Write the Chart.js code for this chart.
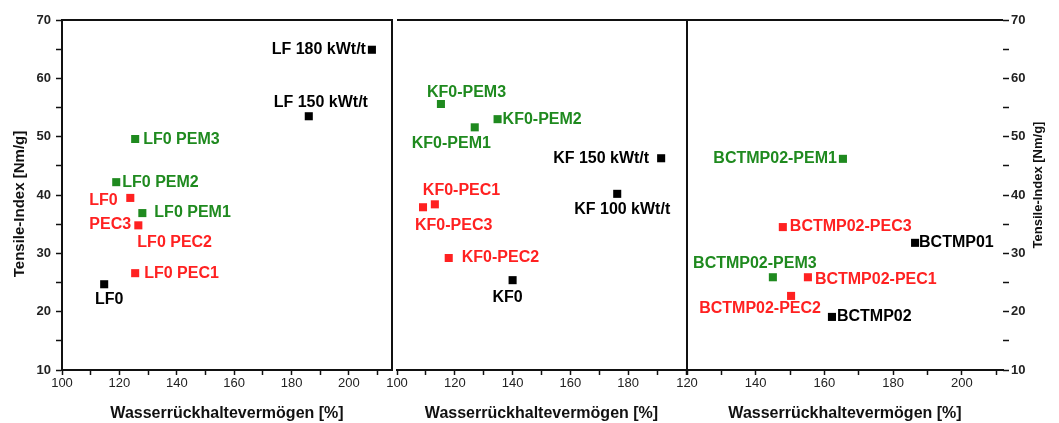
<!DOCTYPE html>
<html>
<head>
<meta charset="utf-8">
<script src="https://cdn.jsdelivr.net/npm/chart.js@4/dist/chart.umd.min.js"></script>
<style>
  html, body { margin: 0; padding: 0; background: #fff; }
  #wrap { position: relative; width: 1059px; height: 423px; overflow: hidden; }
  #wrap canvas { position: absolute; left: 0; top: 0; }
</style>
</head>
<body>
<div id="wrap">
  <canvas id="lf" width="1059" height="423"></canvas>
  <canvas id="kf" width="1059" height="423"></canvas>
  <canvas id="bc" width="1059" height="423"></canvas>
</div>
<script>
// Tensile index versus water retention value (WRV) for three pulp series.

// --- LF series ---
const lfNames   = ['LF0', 'LF 150 kWt/t', 'LF 180 kWt/t', 'LF0 PEC1', 'LF0 PEC2', 'LF0 PEC3', 'LF0 PEM1', 'LF0 PEM2', 'LF0 PEM3'];
const lfWrv     = [114.7, 186.0, 208.0, 125.5, 126.6, 123.8, 128.0, 118.9, 125.5];
const lfTensile = [24.7, 53.5, 64.9, 26.6, 34.8, 39.5, 36.9, 42.2, 49.6];

// --- KF series ---
const kfNames   = ['KF0', 'KF 100 kWt/t', 'KF 150 kWt/t', 'KF0-PEC1', 'KF0-PEC2', 'KF0-PEC3', 'KF0-PEM1', 'KF0-PEM2', 'KF0-PEM3'];
const kfWrv     = [140.0, 176.2, 191.4, 113.1, 117.9, 109.0, 126.9, 134.8, 115.2];
const kfTensile = [25.4, 40.2, 46.3, 38.4, 29.2, 37.9, 51.6, 53.0, 55.6];

// --- BCTMP series ---
const bcNames   = ['BCTMP02', 'BCTMP01', 'BCTMP02-PEC1', 'BCTMP02-PEC2', 'BCTMP02-PEC3', 'BCTMP02-PEM1', 'BCTMP02-PEM3'];
const bcWrv     = [162.2, 186.4, 155.2, 150.3, 147.9, 165.4, 145.0];
const bcTensile = [19.1, 31.8, 25.9, 22.7, 34.5, 46.2, 25.9];

// Axis ranges and tick labels
const tensileRange = [10, 70];
const tensileTicks = [10, 20, 30, 40, 50, 60, 70];
const xTitle = 'Wasserrückhaltevermögen [%]';
const yTitle = 'Tensile-Index [Nm/g]';

const FONT = '"Liberation Sans", Arial, Helvetica, sans-serif';
Chart.defaults.font.family = FONT;

function colorOf(name) {
  if (name.includes('PEC')) return '#ff2121';
  if (name.includes('PEM')) return '#1f8a1f';
  return '#000000';
}

// Label placement next to each marker (offsets in px)
const lfPlace = {
  'LF0':          { dx: 5,   dy: 15,  align: 'center' },
  'LF 150 kWt/t': { dx: 12,  dy: -14, align: 'center' },
  'LF 180 kWt/t': { dx: -6,  dy: 0,   align: 'right' },
  'LF0 PEC1':     { dx: 9,   dy: 0,   align: 'left' },
  'LF0 PEC2':     { dx: -1,  dy: 17,  align: 'left' },
  'LF0 PEC3':     { dx: -41, dy: 3,   align: 'left', lines: ['LF0', 'PEC3'] },
  'LF0 PEM1':     { dx: 12,  dy: 0,   align: 'left' },
  'LF0 PEM2':     { dx: 6,   dy: 0,   align: 'left' },
  'LF0 PEM3':     { dx: 8,   dy: 1,   align: 'left' }
};
const kfPlace = {
  'KF0':          { dx: -5,  dy: 17,  align: 'center' },
  'KF 100 kWt/t': { dx: 5,   dy: 16,  align: 'center' },
  'KF 150 kWt/t': { dx: -12, dy: 0,   align: 'right' },
  'KF0-PEC1':     { dx: -12, dy: -14, align: 'left' },
  'KF0-PEC2':     { dx: 13,  dy: 0,   align: 'left' },
  'KF0-PEC3':     { dx: -8,  dy: 18,  align: 'left' },
  'KF0-PEM1':     { dx: -63, dy: 16,  align: 'left' },
  'KF0-PEM2':     { dx: 5,   dy: 0,   align: 'left' },
  'KF0-PEM3':     { dx: -14, dy: -11, align: 'left' }
};
const bcPlace = {
  'BCTMP02':      { dx: 5,   dy: 0,   align: 'left' },
  'BCTMP01':      { dx: 4,   dy: 0,   align: 'left' },
  'BCTMP02-PEC1': { dx: 7,   dy: 2,   align: 'left' },
  'BCTMP02-PEC2': { dx: -31, dy: 13,  align: 'center' },
  'BCTMP02-PEC3': { dx: 7,   dy: 0,   align: 'left' },
  'BCTMP02-PEM1': { dx: -6,  dy: 0,   align: 'right' },
  'BCTMP02-PEM3': { dx: -18, dy: -14, align: 'center' }
};

// Draws the remaining sides of each panel frame
const framePlugin = {
  id: 'frame',
  afterDraw(chart, args, opts) {
    const { left, right, top, bottom } = chart.chartArea;
    const ctx = chart.ctx;
    ctx.save();
    ctx.strokeStyle = '#111';
    ctx.lineWidth = 2;
    ctx.beginPath();
    (opts.sides || []).forEach(side => {
      if (side === 'top')   { ctx.moveTo(left, top); ctx.lineTo(right, top); }
      if (side === 'right') { ctx.moveTo(right, top - 1); ctx.lineTo(right, bottom); }
      if (side === 'left')  { ctx.moveTo(left, top - 1); ctx.lineTo(left, bottom); }
    });
    ctx.stroke();
    ctx.restore();
  }
};

// Text label beside every sample marker
const pointLabelPlugin = {
  id: 'pointLabels',
  afterDatasetsDraw(chart, args, opts) {
    const ctx = chart.ctx;
    const ds = chart.data.datasets[0];
    const meta = chart.getDatasetMeta(0);
    ctx.save();
    ctx.font = 'bold 16px ' + FONT;
    ctx.textBaseline = 'middle';
    meta.data.forEach((pt, i) => {
      const name = ds.names[i];
      const p = opts.placement[name];
      const lines = p.lines || [name];
      ctx.fillStyle = colorOf(name);
      ctx.textAlign = p.align;
      lines.forEach((line, k) => ctx.fillText(line, pt.x + p.dx, pt.y + p.dy + k * 24));
    });
    ctx.restore();
  }
};

// Tensile axis titles, reading bottom to top
const sideTitlePlugin = {
  id: 'sideTitle',
  afterDraw(chart, args, opts) {
    if (!opts.text) return;
    const { left, right, top, bottom } = chart.chartArea;
    const ctx = chart.ctx;
    ctx.save();
    const x = opts.side === 'right' ? right + 35 : left - 42;
    const y = (top + bottom) / 2 + opts.shift;
    ctx.translate(x, y);
    ctx.rotate(-Math.PI / 2);
    ctx.font = 'bold ' + opts.size + 'px ' + FONT;
    ctx.fillStyle = '#111';
    ctx.textAlign = 'center';
    ctx.textBaseline = 'middle';
    ctx.fillText(opts.text, 0, 0);
    ctx.restore();
  }
};

function makePanel(id, cfg) {
  const yAxis = {
    type: 'linear',
    display: cfg.yPos !== 'none',
    position: cfg.yPos === 'right' ? 'right' : 'left',
    min: tensileRange[0],
    max: tensileRange[1],
    afterFit: s => { s.width = cfg.yWidth; },
    border: { display: cfg.yPos === 'left', color: '#111', width: 2 },
    grid: { drawOnChartArea: false, tickLength: 6, tickColor: '#111', tickWidth: 1.5 },
    ticks: {
      stepSize: 5,
      includeBounds: false,
      autoSkip: false,
      padding: cfg.yPos === 'right' ? 2 : 5,
      color: '#222',
      font: { size: 13, weight: 'bold' },
      callback: v => tensileTicks.includes(v) ? String(v) : ''
    },
    title: { display: false }
  };
  let sideTitle = { text: '' };
  if (cfg.yPos === 'left')  sideTitle = { text: yTitle, side: 'left',  size: 15, shift: 9 };
  if (cfg.yPos === 'right') sideTitle = { text: yTitle, side: 'right', size: 13, shift: -10 };

  return new Chart(document.getElementById(id), {
    type: 'scatter',
    data: {
      datasets: [{
        names: cfg.names,
        data: cfg.names.map((n, i) => ({ x: cfg.wrv[i], y: cfg.tensile[i] })),
        pointStyle: 'rect',
        pointRadius: 5.7,
        pointHoverRadius: 5.7,
        pointBorderWidth: 0,
        pointBackgroundColor: cfg.names.map(colorOf),
        showLine: false
      }]
    },
    options: {
      responsive: false,
      animation: false,
      devicePixelRatio: 1,
      events: [],
      layout: { padding: { left: cfg.padLeft, right: cfg.padRight, top: 20, bottom: 0 } },
      plugins: {
        legend: { display: false },
        tooltip: { enabled: false },
        frame: { sides: cfg.frame },
        pointLabels: { placement: cfg.placement },
        sideTitle: sideTitle
      },
      scales: {
        x: {
          type: 'linear',
          position: 'bottom',
          min: cfg.xMin,
          max: cfg.xMax,
          afterFit: s => { s.height = 53; },
          border: { display: true, color: '#111', width: 2 },
          grid: { drawOnChartArea: false, tickLength: 5, tickColor: '#111', tickWidth: 1.5 },
          ticks: {
            stepSize: 10,
            includeBounds: false,
            autoSkip: false,
            maxRotation: 0,
            minRotation: 0,
            padding: 1,
            color: '#222',
            font: { size: 13 },
            callback: v => (v % 20 === 0 && !(cfg.hideMaxLabel && v === cfg.xMax)) ? String(v) : ''
          },
          title: {
            display: true,
            text: xTitle,
            color: '#111',
            font: { size: 16, weight: 'bold' },
            padding: { top: 0, bottom: 0 }
          }
        },
        y: yAxis
      }
    },
    plugins: [framePlugin, pointLabelPlugin, sideTitlePlugin]
  });
}

makePanel('lf', {
  names: lfNames, wrv: lfWrv, tensile: lfTensile, placement: lfPlace,
  xMin: 100, xMax: 215, yPos: 'left', yWidth: 62,
  padLeft: 0, padRight: 1059 - 392, frame: ['top', 'right']
});
makePanel('kf', {
  names: kfNames, wrv: kfWrv, tensile: kfTensile, placement: kfPlace,
  xMin: 100, xMax: 200, hideMaxLabel: true, yPos: 'none', yWidth: 0,
  padLeft: 397, padRight: 1059 - 686, frame: ['top']
});
makePanel('bc', {
  names: bcNames, wrv: bcWrv, tensile: bcTensile, placement: bcPlace,
  xMin: 120, xMax: 212, yPos: 'right', yWidth: 56,
  padLeft: 687, padRight: 0, frame: ['top', 'left']
});
</script>
</body>
</html>
